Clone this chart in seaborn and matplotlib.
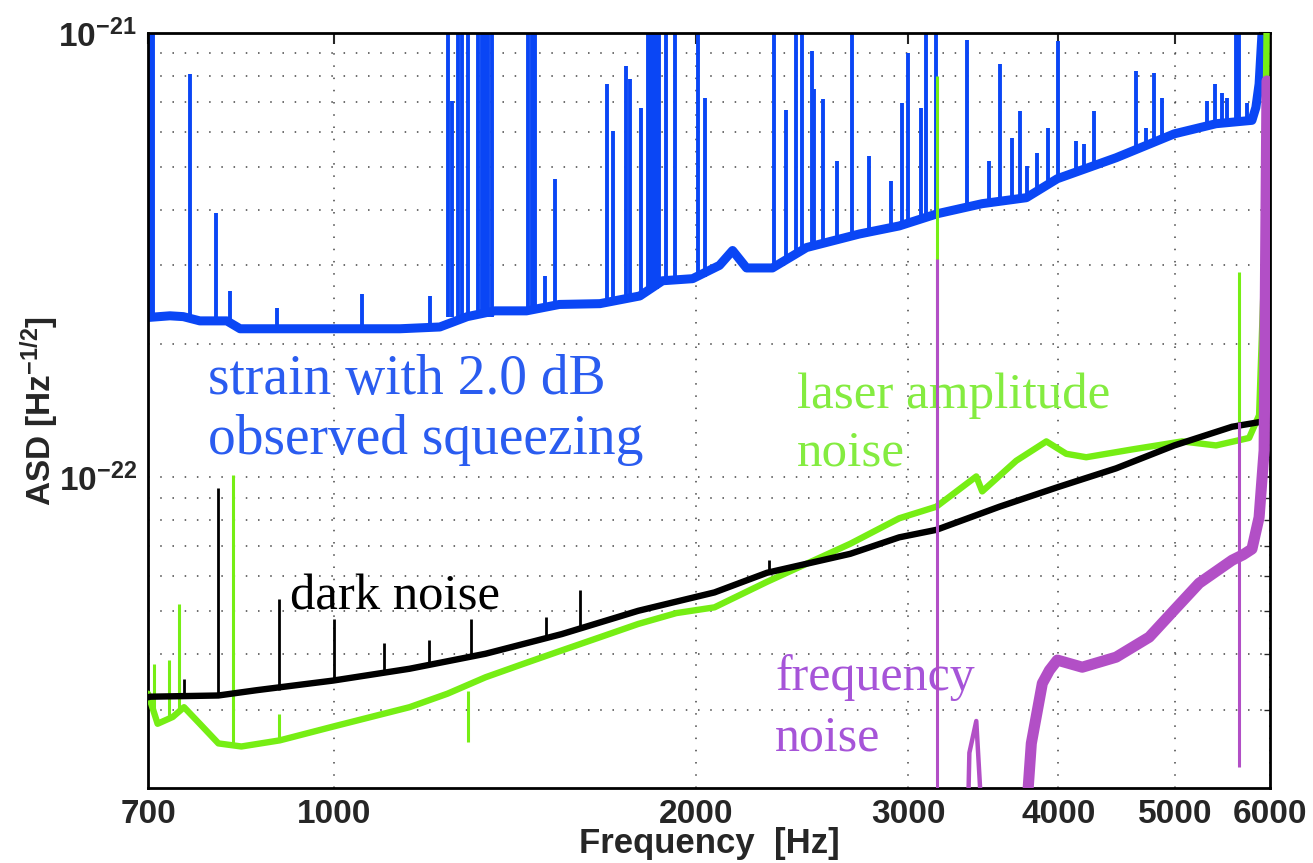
import numpy as np
import pandas as pd
import matplotlib
matplotlib.use("Agg")
import matplotlib.pyplot as plt
import seaborn as sns
from matplotlib.ticker import FixedLocator, FixedFormatter, NullFormatter

# All amplitude values are in units of 1e-23 1/sqrt(Hz)
UNIT = 1e-23
TOP = 150.0  # lines that run off the top of the plot

# ---- strain with 2.0 dB observed squeezing (blue) ----
strain_freq = [700, 730, 749, 773, 814, 835, 936, 1030, 1134, 1224, 1290, 1360, 1445,
               1539, 1663, 1795, 1875, 1986, 2091, 2144, 2202, 2314, 2470, 2734, 2950,
               3173, 3458, 3763, 3993, 4469, 4995, 5411, 5796, 5840, 5876, 5921]
strain_asd = [22.9, 23.1, 23.0, 22.5, 22.5, 21.6, 21.6, 21.6, 21.6, 21.8, 23.0, 23.7, 23.7,
              24.5, 24.6, 25.6, 27.7, 28.0, 30.0, 32.4, 29.6, 29.6, 32.9, 35.3, 36.8,
              39.2, 41.3, 42.6, 47.0, 52.4, 59.3, 62.5, 63.6, 68.0, 76.8, 110.0]
strain_line_freq = [703, 707, 759, 797, 819, 896, 1054, 1201, 1243, 1252, 1267, 1276, 1291,
                    1316, 1326, 1334, 1341, 1352, 1448, 1459, 1468, 1497, 1525, 1685, 1704,
                    1747, 1761, 1798, 1822, 1833, 1843, 1854, 1864, 1886, 1919, 2005, 2032,
                    2323, 2377, 2423, 2451, 2494, 2508, 2547, 2621, 2697, 2786, 2906, 2968,
                    3002, 3077, 3107, 3167, 3361, 3505, 3580, 3663, 3720, 3770, 3843, 3925,
                    4001, 4140, 4205, 4286, 4644, 4733, 4807, 4881, 5320, 5401, 5474, 5527,
                    5623, 5654, 5742]
strain_line_top = [TOP, TOP, 80.9, 39.4, 26.3, 24.1, 25.9, 25.6, TOP, 70.3, TOP, TOP, TOP,
                   TOP, TOP, TOP, TOP, TOP, TOP, TOP, TOP, 28.4, 47.0, 76.8, 60.2,
                   84.3, 78.8, 67.8, TOP, TOP, TOP, TOP, TOP, TOP, TOP, TOP, 71.4,
                   TOP, 67.2, TOP, TOP, 91.1, 74.8, 71.1, 51.6, TOP, 52.9, 46.5, 69.6,
                   90.2, 67.8, TOP, TOP, 96.4, 51.6, 85.2, 58.1, 66.8, 50.2, 53.7, 61.2,
                   95.9, 57.2, 56.3, 66.8, 82.2, 61.2, 81.3, 71.4, 70.3, 76.8, 73.3, 71.4,
                   TOP, TOP, 69.6]
strain_line_base = [22.9, 22.9, 23.0, 22.5, 22.2, 21.6, 21.6, 21.8, 23.0, 23.0, 23.0, 23.0, 23.0,
                    23.0, 23.0, 23.0, 23.0, 23.0, 23.7, 23.7, 23.7, 24.0, 24.2, 25.0, 25.0,
                    25.2, 25.2, 25.6, 26.0, 26.2, 26.4, 26.6, 26.8, 27.7, 27.7, 28.0, 28.2,
                    29.6, 30.5, 31.5, 32.2, 33.0, 33.2, 33.6, 34.5, 35.0, 35.8, 36.5, 37.0,
                    37.2, 38.0, 38.5, 39.2, 40.5, 41.3, 41.7, 42.0, 42.4, 42.6, 44.0, 45.5,
                    47.0, 48.5, 49.5, 50.5, 54.0, 55.0, 56.0, 57.0, 61.5, 62.0, 62.5, 62.8,
                    63.0, 63.2, 63.6]

# ---- dark noise (black) ----
dark_freq = [700, 703, 801, 862, 998, 1155, 1336, 1546, 1790, 2071, 2290, 2686, 2950,
             3167, 3574, 3993, 4469, 4995, 5580, 5960, 6000]
dark_asd = [3.20, 3.21, 3.23, 3.32, 3.49, 3.71, 4.01, 4.44, 5.01, 5.51, 6.10, 6.73, 7.33,
            7.62, 8.59, 9.50, 10.48, 11.8, 13.0, 13.4, 13.4]
dark_line_freq = [750, 800, 900, 1000, 1100, 1200, 1300, 1500, 1600, 2300]
dark_line_top = [3.52, 9.46, 5.32, 4.80, 4.24, 4.30, 4.80, 4.84, 5.57, 6.51]
dark_line_base = [3.21, 3.23, 3.33, 3.49, 3.62, 3.80, 3.95, 4.35, 4.55, 6.10]

# ---- laser amplitude noise (green) ----
amp_freq = [700, 713, 734, 750, 773, 801, 837, 901, 998, 1155, 1242, 1336, 1438, 1546,
            1664, 1790, 1925, 2071, 2290, 2686, 2950, 3167, 3419, 3458, 3691, 3910, 4062,
            4220, 4609, 5071, 5411, 5765, 5876, 5930, 5965]
amp_asd = [3.26, 2.79, 2.89, 3.04, 2.79, 2.52, 2.48, 2.56, 2.75, 3.04, 3.26, 3.55, 3.81, 4.08,
           4.37, 4.68, 4.95, 5.10, 5.82, 7.09, 8.09, 8.59, 10.05, 9.30, 10.9, 12.05, 11.3,
           11.1, 11.56, 12.05, 11.8, 12.27, 13.8, 28.0, 120.0]
amp_line_freq = [708, 729, 743, 824, 900, 1293, 3170, 5654]
amp_line_top = [3.81, 3.88, 5.19, 10.1, 2.94, 2.54, 80.0, 29.0]
amp_line_base = [3.00, 2.90, 3.00, 2.50, 2.55, 3.30, 8.60, 12.2]

# ---- frequency noise (purple) ----
freqn_freq = [3748, 3799, 3880, 3933, 3993, 4188, 4469, 4761, 4995, 5239, 5580, 5700,
              5796, 5876, 5933, 5966]
freqn_asd = [1.5, 2.52, 3.44, 3.68, 3.88, 3.74, 3.94, 4.37, 5.03, 5.78, 6.51, 6.70,
             6.9, 8.13, 11.5, 78.0]
freqn_bump_freq = [3361, 3374, 3419, 3465]
freqn_bump_asd = [1.5, 2.40, 2.83, 1.5]
freqn_line_freq = [3170, 5654]
freqn_line_top = [31.0, 13.3]
freqn_line_base = [1.5, 2.23]

x_ticks = [700, 1000, 2000, 3000, 4000, 5000, 6000]
x_tick_labels = ["700", "1000", "2000", "3000", "4000", "5000", "6000"]

BLUE = "#0a46f5"
GREEN = "#76ee14"
BLACK = "#000000"
PURPLE = "#b24fc6"

sns.set_style("white")
plt.rcParams["font.family"] = ["Liberation Sans", "DejaVu Sans"]
plt.rcParams["mathtext.fontset"] = "custom"
plt.rcParams["mathtext.rm"] = "Liberation Sans:bold"
plt.rcParams["mathtext.it"] = "Liberation Sans:bold"
plt.rcParams["mathtext.bf"] = "Liberation Sans:bold"

fig = plt.figure(figsize=(13.13, 8.63), dpi=100)
ax = fig.add_axes([148 / 1313, 1 - 788 / 863, 1122 / 1313, 755 / 863])
ax.set_xscale("log")
ax.set_yscale("log")


def curve(freq, asd, color, width, z):
    df = pd.DataFrame({"f": freq, "asd": np.asarray(asd) * UNIT})
    sns.lineplot(data=df, x="f", y="asd", ax=ax, color=color, linewidth=width,
                 estimator=None, sort=False, zorder=z)


def lines(freq, base, top, color, width, z):
    ax.vlines(freq, np.asarray(base) * UNIT, np.asarray(top) * UNIT,
              color=color, linewidth=width, zorder=z)


curve(strain_freq, strain_asd, BLUE, 6.5, 2)
lines(strain_line_freq, strain_line_base, strain_line_top, BLUE, 2.8, 2)

curve(amp_freq, amp_asd, GREEN, 4.6, 3)
lines(amp_line_freq, amp_line_base, amp_line_top, GREEN, 2.2, 3)

curve(dark_freq, dark_asd, BLACK, 4.6, 4)
lines(dark_line_freq, dark_line_base, dark_line_top, BLACK, 2.0, 4)

curve(freqn_freq, freqn_asd, PURPLE, 8.0, 5)
curve(freqn_bump_freq, freqn_bump_asd, PURPLE, 3.2, 5)
lines(freqn_line_freq, freqn_line_base, freqn_line_top, PURPLE, 2.2, 5)

ax.set_xlim(700, 6000)
ax.set_ylim(2e-23, 1e-21)

ax.xaxis.set_major_locator(FixedLocator(x_ticks))
ax.xaxis.set_major_formatter(FixedFormatter(x_tick_labels))
ax.xaxis.set_minor_locator(FixedLocator([]))
ax.xaxis.set_minor_formatter(NullFormatter())

ax.yaxis.set_major_locator(FixedLocator([1e-22, 1e-21]))
ax.yaxis.set_major_formatter(FixedFormatter([r"$10^{-22}$", r"$10^{-21}$"]))
minor_y = [k * 1e-23 for k in range(3, 10)] + [k * 1e-22 for k in range(2, 10)]
ax.yaxis.set_minor_locator(FixedLocator(minor_y))
ax.yaxis.set_minor_formatter(NullFormatter())

ax.tick_params(axis="both", which="major", direction="in", length=8, width=1.5,
               top=True, right=True, labelsize=24, pad=8)
ax.tick_params(axis="both", which="minor", direction="in", length=4, width=1.0,
               top=True, right=True)
for lab in ax.get_xticklabels() + ax.get_yticklabels():
    lab.set_fontweight("bold")

grid_kw = dict(color="#444444", lw=1.1, linestyle=(0, (1, 7)))
ax.grid(True, which="major", axis="x", **grid_kw)
ax.grid(True, which="both", axis="y", **grid_kw)
ax.set_axisbelow(True)

for sp in ax.spines.values():
    sp.set_visible(True)
    sp.set_color("black")
    sp.set_linewidth(2.0)

ax.set_xlabel("Frequency  [Hz]", fontsize=25, fontweight="bold", labelpad=-2)
ax.set_ylabel(r"ASD [Hz$^{-1/2}$]", fontsize=24, fontweight="bold", labelpad=-2)

serif = ["Liberation Serif", "DejaVu Serif"]
ax.text(0.0535, 0.540, "strain with 2.0 dB", transform=ax.transAxes, fontsize=40,
        color="#2a5cf0", family=serif, va="center", ha="left")
ax.text(0.0535, 0.461, "observed squeezing", transform=ax.transAxes, fontsize=40,
        color="#2a5cf0", family=serif, va="center", ha="left")
ax.text(0.578, 0.520, "laser amplitude", transform=ax.transAxes, fontsize=36.8,
        color="#84ec40", family=serif, va="center", ha="left")
ax.text(0.578, 0.444, "noise", transform=ax.transAxes, fontsize=36.8,
        color="#84ec40", family=serif, va="center", ha="left")
ax.text(0.1266, 0.252, "dark noise", transform=ax.transAxes, fontsize=36.5,
        color="black", family=serif, va="center", ha="left")
ax.text(0.559, 0.146, "frequency", transform=ax.transAxes, fontsize=36,
        color="#a654d8", family=serif, va="center", ha="left")
ax.text(0.559, 0.066, "noise", transform=ax.transAxes, fontsize=36,
        color="#a654d8", family=serif, va="center", ha="left")

fig.savefig("out.png", dpi=100)
